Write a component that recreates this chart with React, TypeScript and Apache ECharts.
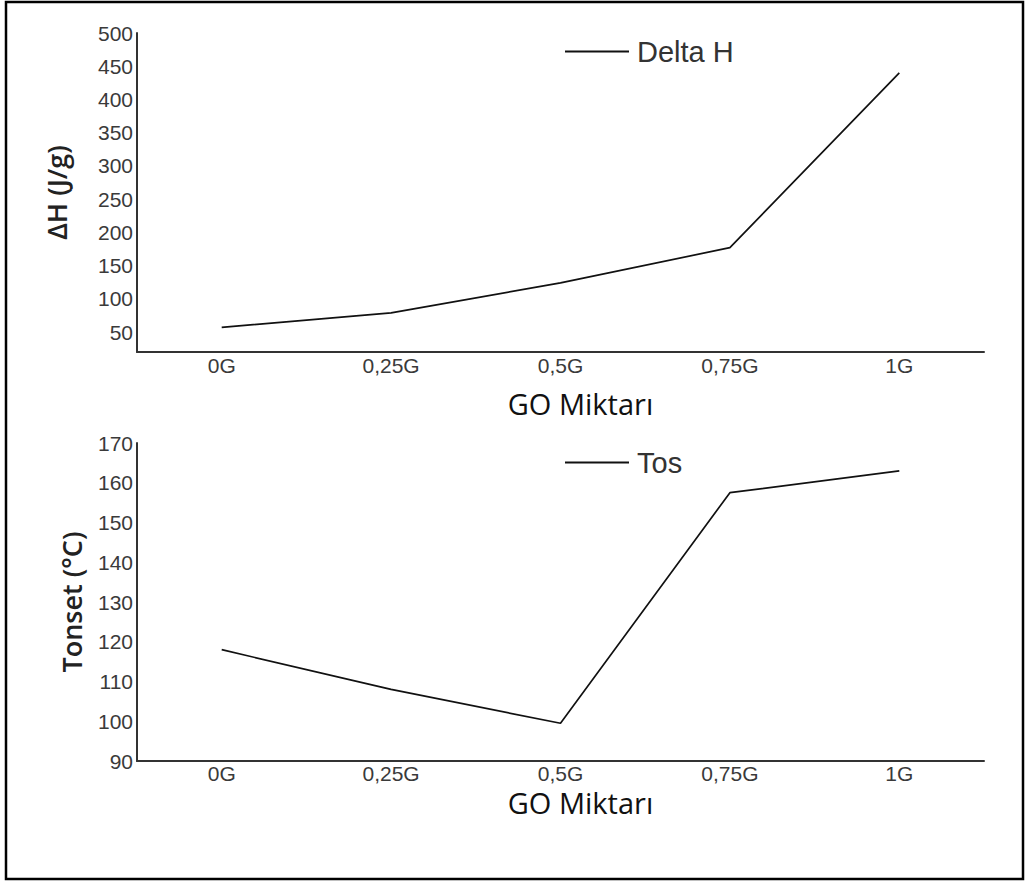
import React, { useEffect, useRef } from "react";
import * as echarts from "echarts";

const categories = ["0G", "0,25G", "0,5G", "0,75G", "1G"];
const deltaH = [57, 79, 124, 177, 440];
const tos = [118, 108, 99.5, 157.5, 163];
const deltaHTicks = [50, 100, 150, 200, 250, 300, 350, 400, 450, 500];

export default function App() {
  const ref = useRef<HTMLDivElement>(null);
  useEffect(() => {
    if (!ref.current) return;
    const chart = echarts.init(ref.current, null, { renderer: "svg" });
    const tickLabel = {
      color: "#3a3a3a",
      fontSize: 21,
      fontFamily: "Liberation Sans",
    };
    const xName = {
      color: "#111",
      fontSize: 29,
      fontFamily: "Open Sans",
      padding: [0, 0, 0, 40],
    };
    const yName = {
      color: "#222",
      fontSize: 27,
      fontWeight: 600,
      fontFamily: "Open Sans",
    };
    const axisLine = { show: true, lineStyle: { color: "#333", width: 2 } };
    const legendBase = {
      left: 560,
      icon: "rect",
      itemWidth: 64,
      itemHeight: 2,
      itemGap: 10,
      itemStyle: { color: "#111", borderWidth: 0 },
      textStyle: { color: "#333", fontSize: 29, fontFamily: "Liberation Sans", padding: [0, 0, 0, 3] },
    };
    chart.setOption({
      animation: false,
      backgroundColor: "#fff",
      grid: [
        { left: 137, right: 45, top: 33, height: 319 },
        { left: 137, right: 45, top: 443, height: 318 },
      ],
      legend: [
        { ...legendBase, data: ["Delta H"], top: 32 },
        { ...legendBase, data: ["Tos"], top: 443 },
      ],
      xAxis: [
        {
          type: "category",
          gridIndex: 0,
          data: categories,
          boundaryGap: true,
          axisLine,
          axisTick: { show: false },
          axisLabel: { ...tickLabel, margin: 3 },
          name: "GO Miktarı",
          nameLocation: "middle",
          nameGap: 37,
          nameTextStyle: xName,
        },
        {
          type: "category",
          gridIndex: 1,
          data: categories,
          boundaryGap: true,
          axisLine,
          axisTick: { show: false },
          axisLabel: { ...tickLabel, margin: 2 },
          name: "GO Miktarı",
          nameLocation: "middle",
          nameGap: 27,
          nameTextStyle: xName,
        },
      ],
      yAxis: [
        {
          type: "value",
          gridIndex: 0,
          min: 20,
          max: 500,
          axisLine,
          axisTick: { show: false },
          splitLine: { show: false },
          axisLabel: { ...tickLabel, margin: 4, customValues: deltaHTicks },
          name: "ΔH (J/g)",
          nameLocation: "middle",
          nameRotate: 90,
          nameGap: 67,
          nameTextStyle: yName,
        },
        {
          type: "value",
          gridIndex: 1,
          min: 90,
          max: 170,
          interval: 10,
          axisLine,
          axisTick: { show: false },
          splitLine: { show: false },
          axisLabel: { ...tickLabel, margin: 4 },
          name: "Tonset (°C)",
          nameLocation: "middle",
          nameRotate: 90,
          nameGap: 52,
          nameTextStyle: yName,
        },
      ],
      series: [
        {
          name: "Delta H",
          type: "line",
          xAxisIndex: 0,
          yAxisIndex: 0,
          data: deltaH,
          symbol: "none",
          lineStyle: { color: "#111", width: 1.7 },
          itemStyle: { color: "#111" },
        },
        {
          name: "Tos",
          type: "line",
          xAxisIndex: 1,
          yAxisIndex: 1,
          data: tos,
          symbol: "none",
          lineStyle: { color: "#111", width: 1.7 },
          itemStyle: { color: "#111" },
        },
      ],
      graphic: [
        {
          type: "rect",
          shape: { x: 6, y: 2, width: 1017, height: 877 },
          style: { fill: "none", stroke: "#000", lineWidth: 2.5 },
          silent: true,
        },
      ],
    });
    return () => chart.dispose();
  }, []);
  return (
    <div
      ref={ref}
      style={{ position: "absolute", left: 0, top: 0, width: 1029, height: 883 }}
    />
  );
}
